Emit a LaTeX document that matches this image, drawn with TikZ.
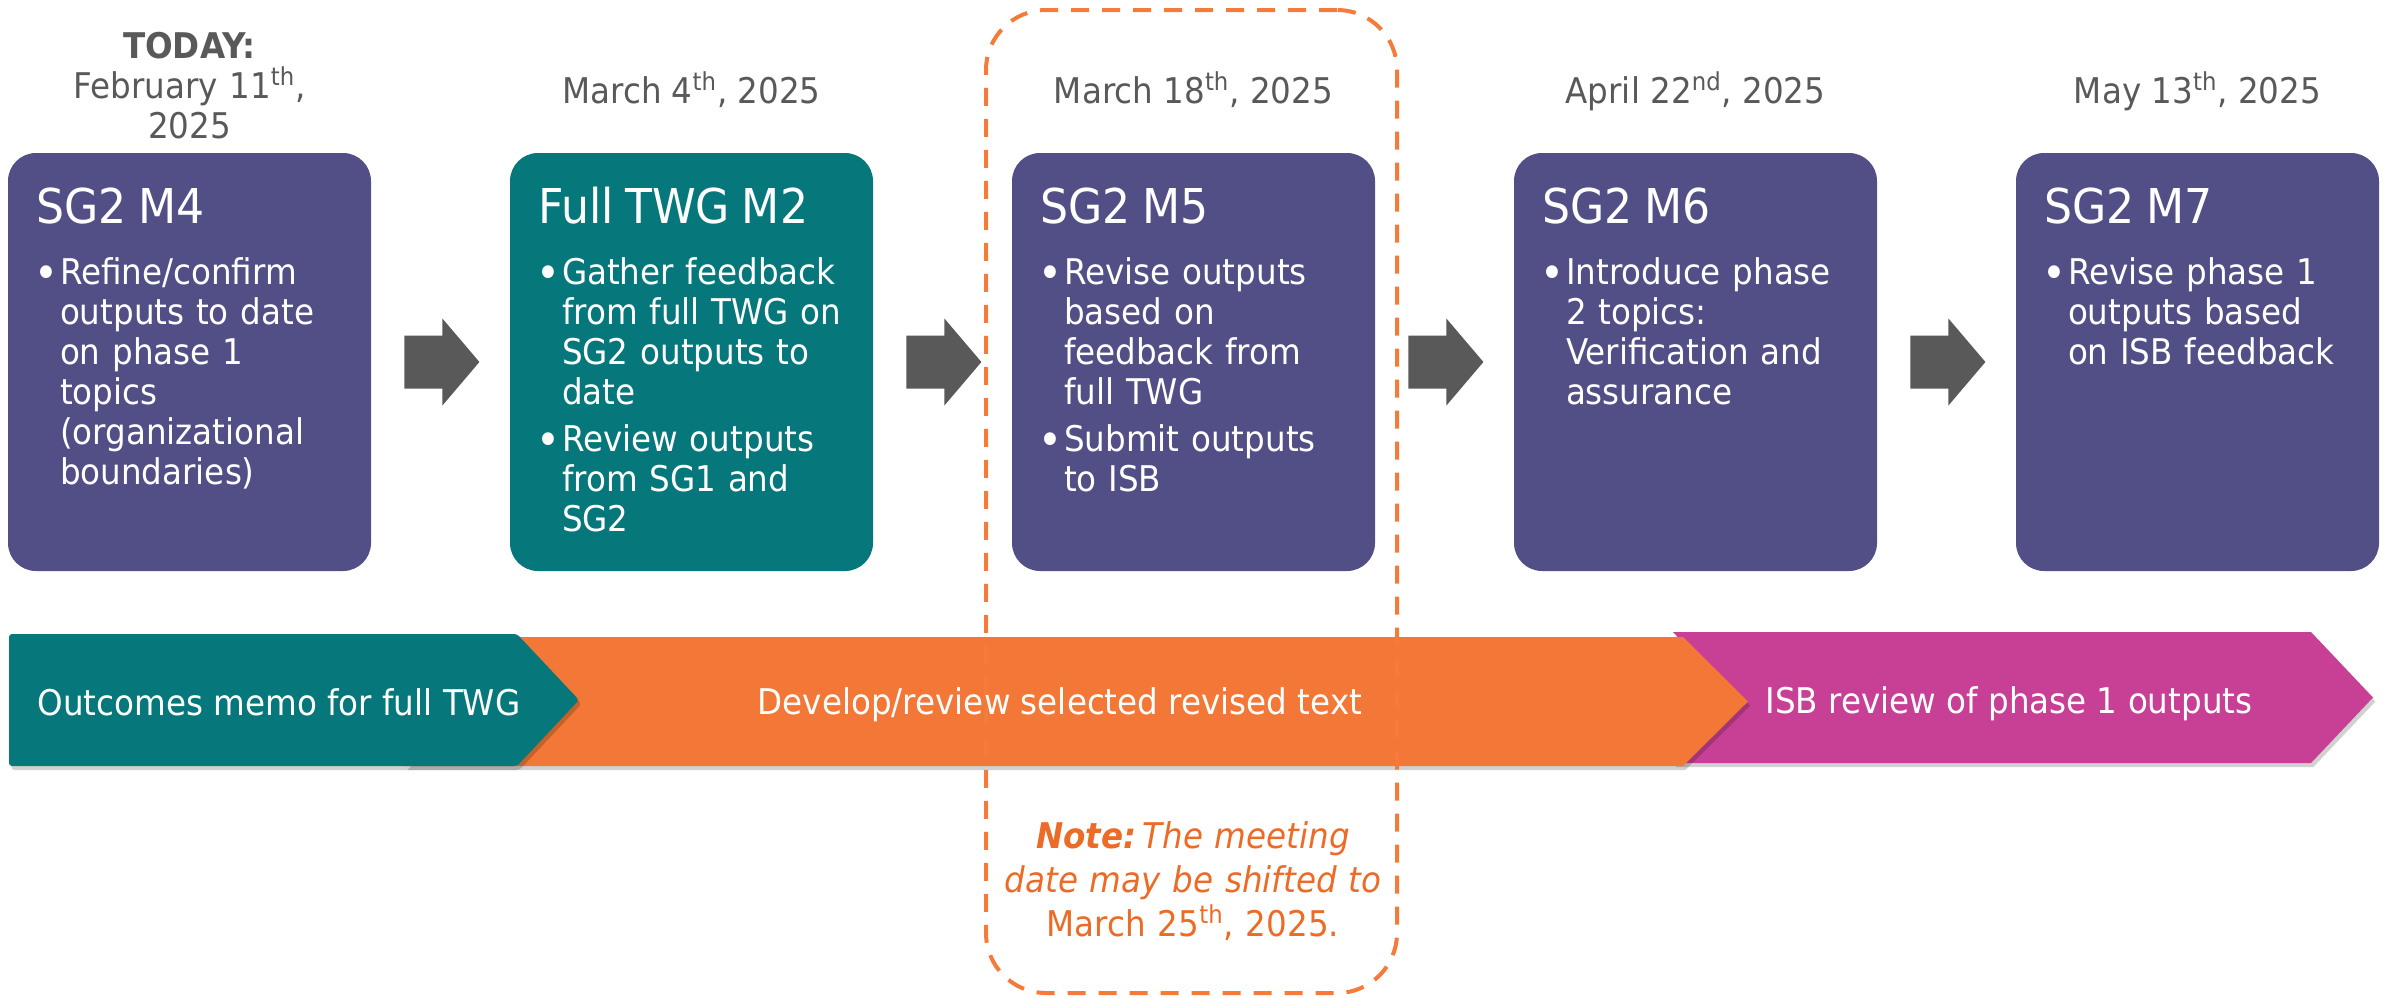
\documentclass[tikz,border=0pt]{standalone}
\usepackage{fontspec}
\setmainfont{DejaVu Sans}[FakeStretch=0.92]
\usetikzlibrary{shadows}

\definecolor{sgpurple}{HTML}{524F86}
\definecolor{twgteal}{HTML}{06777A}
\definecolor{devorange}{HTML}{F37736}
\definecolor{isbpink}{HTML}{C84095}
\definecolor{dategray}{HTML}{595959}
\definecolor{notedash}{HTML}{F47B3A}
\definecolor{notetext}{HTML}{EC6B26}

\newcommand{\bodyfont}{\fontsize{17.7pt}{20pt}\selectfont}
\newcommand{\mtghead}[1]{{\fontsize{24pt}{26pt}\selectfont #1\par}\vspace{7pt}}
\newcommand{\mtgitem}[1]{\hangindent=12pt\hangafter=1\noindent
  \makebox[12pt][l]{\hspace{-1pt}\raisebox{-2.2pt}{\fontsize{22pt}{20pt}\selectfont\textbullet}}#1\par}
\newcommand{\supth}[1]{\textsuperscript{#1}}

\tikzset{
  mtgbox/.style={rounded corners=14pt, inner sep=0pt, text width=181.5pt,
    text height=35pt, text depth=174pt, text=white, font=\bodyfont,
    execute at begin node={\setlength\leftskip{14pt}\setlength\parskip{3.5pt}}},
  datelbl/.style={anchor=base, inner sep=0pt, text=dategray, font=\bodyfont},
  chevtext/.style={anchor=base, inner sep=0pt, text=white, font=\bodyfont},
  chevshadow/.style={drop shadow={shadow xshift=1.2pt, shadow yshift=-2pt, opacity=0.18, fill=black}},
  arrowgray/.style={fill=dategray},
  notebox/.style={draw=notedash, line width=2pt, rounded corners=30pt,
    dash pattern=on 9pt off 6.5pt, minimum width=205.5pt, minimum height=491.5pt, inner sep=0pt}
}

\begin{document}
\begin{tikzpicture}[x=0.5pt,y=-0.5pt]
\useasboundingbox (0,0) rectangle (2389,997);

% phases along the bottom
\fill[isbpink,chevshadow] (1673,632) -- (2311,632) -- (2373,697.5) -- (2311,763) -- (1673,763) -- (1735,697.5) -- cycle;
\fill[devorange,chevshadow] (405,637) -- (1683,637) -- (1748,701.5) -- (1683,766) -- (405,766) -- (467,701.5) -- cycle;
\fill[twgteal,chevshadow,rounded corners=1.5pt] (9,634) -- (517,634) -- (579,700) -- (517,766) -- (9,766) -- cycle;
\node[chevtext] (memo) at (279,715) {Outcomes memo for full TWG};
\node[chevtext] (dev) at (1060,714) {Develop/review selected revised text};
\node[chevtext] (isb) at (2009,713) {ISB review of phase 1 outputs};

\node[notebox] (shift) at (1191.5,501.5) {};

% meetings
\node[mtgbox,fill=sgpurple] (m4) at (189.5,362) {\mtghead{SG2 M4}
  \mtgitem{Refine/confirm\newline outputs to date\newline on phase 1\newline topics\newline (organizational\newline boundaries)}};
\node[mtgbox,fill=twgteal] (m2) at (691.5,362) {\mtghead{Full TWG M2}
  \mtgitem{Gather feedback\newline from full TWG on\newline SG2 outputs to\newline date}
  \mtgitem{Review outputs\newline from SG1 and\newline SG2}};
\node[mtgbox,fill=sgpurple] (m5) at (1193.5,362) {\mtghead{SG2 M5}
  \mtgitem{Revise outputs\newline based on\newline feedback from\newline full TWG}
  \mtgitem{Submit outputs\newline to ISB}};
\node[mtgbox,fill=sgpurple] (m6) at (1695.5,362) {\mtghead{SG2 M6}
  \mtgitem{Introduce phase\newline 2 topics:\newline Verification and\newline assurance}};
\node[mtgbox,fill=sgpurple] (m7) at (2197.5,362) {\mtghead{SG2 M7}
  \mtgitem{Revise phase 1\newline outputs based\newline on ISB feedback}};

\foreach \a in {m4,m2,m5,m6}
  \fill[arrowgray] ([xshift=16.5pt]\a.east) -- ++(0,-26.5) -- ++(38,0) -- ++(0,-17) -- ++(37,43.5)
    -- ++(-37,43.5) -- ++(0,-17) -- ++(-38,0) -- cycle;

% dates
\node[datelbl,text width=181.5pt,align=center] (today) at (189.5,58)
  {\textbf{TODAY:}\\February 11\supth{th},\\2025};
\node[datelbl] (d2) at (691.5,103) {March 4\supth{th}, 2025};
\node[datelbl] (d5) at (1193.5,103) {March 18\supth{th}, 2025};
\node[datelbl] (d6) at (1695.5,103) {April 22\supth{nd}, 2025};
\node[datelbl] (d7) at (2197.5,103) {May 13\supth{th}, 2025};

\node[anchor=base,inner sep=0pt,text width=200pt,align=center,text=notetext,
  font=\fontsize{17.7pt}{22pt}\selectfont] (note) at (1193,848)
  {\textbf{\textit{Note:}}\,\textit{The meeting}\\\textit{date may be shifted to}\\March 25\supth{th}, 2025.};
\end{tikzpicture}
\end{document}
